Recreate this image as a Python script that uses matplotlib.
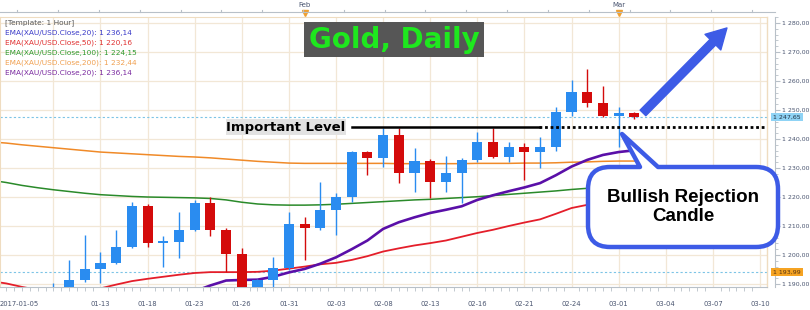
import numpy as np
import matplotlib.pyplot as plt
import matplotlib.transforms as mtransforms
from matplotlib.path import Path
from matplotlib.patches import PathPatch, Rectangle
from matplotlib.ticker import MultipleLocator, FuncFormatter

W, H = 810, 310

# daily candles, x = trading-day index
candle_idx = np.arange(2, 40)
opens = [1186.0, 1187.0, 1191.4, 1195.2, 1197.2, 1202.8, 1216.9, 1204.1, 1204.6, 1208.6,
         1217.9, 1208.6, 1200.3, 1187.5, 1191.4, 1195.5, 1210.7, 1209.3, 1215.5, 1220.0,
         1235.5, 1233.4, 1241.4, 1228.3, 1232.4, 1225.2, 1228.3, 1232.8, 1239.0, 1233.8,
         1237.2, 1235.5, 1237.2, 1249.3, 1256.2, 1252.4, 1247.9, 1249.0]
highs = [1190.5, 1198.3, 1206.9, 1201.0, 1208.6, 1218.3, 1217.6, 1206.6, 1214.8, 1219.0,
         1220.0, 1209.3, 1202.4, 1191.8, 1199.3, 1214.8, 1213.1, 1225.2, 1221.4, 1236.0,
         1236.0, 1243.8, 1243.8, 1236.9, 1233.0, 1234.1, 1233.5, 1242.4, 1243.8, 1239.0,
         1238.6, 1240.7, 1251.0, 1260.3, 1264.1, 1258.3, 1251.0, 1249.3]
lows = [1183.0, 1185.0, 1190.7, 1190.3, 1196.8, 1202.5, 1202.8, 1195.9, 1199.0, 1208.2,
        1206.6, 1194.1, 1185.5, 1186.0, 1188.0, 1195.0, 1198.3, 1208.6, 1206.9, 1218.3,
        1227.6, 1230.3, 1224.8, 1221.7, 1219.7, 1221.7, 1217.9, 1232.1, 1233.5, 1232.1,
        1225.9, 1230.0, 1235.9, 1247.9, 1251.0, 1247.5, 1237.2, 1246.9]
closes = [1188.0, 1191.4, 1195.2, 1197.2, 1202.8, 1216.9, 1204.1, 1204.6, 1208.6, 1217.9,
          1208.6, 1200.3, 1187.5, 1191.4, 1195.5, 1210.7, 1209.3, 1215.5, 1220.0, 1235.5,
          1233.4, 1241.4, 1228.3, 1232.4, 1225.2, 1228.3, 1232.8, 1239.0, 1233.8, 1237.2,
          1235.5, 1237.2, 1249.3, 1256.2, 1252.4, 1247.9, 1249.0, 1247.65]

ema_idx = np.arange(-2, 40)
ema50 = [1191.0, 1190.2, 1189.0, 1188.0, 1187.5, 1187.3, 1187.5, 1188.5, 1189.8, 1191.0,
         1191.8, 1192.5, 1193.2, 1193.8, 1194.1, 1194.1, 1194.1, 1194.2, 1194.6, 1195.3,
         1196.0, 1196.8, 1197.3, 1198.3, 1199.6, 1201.2, 1202.3, 1203.3, 1204.1, 1205.0,
         1206.3, 1207.6, 1208.7, 1210.0, 1211.2, 1212.3, 1214.2, 1216.2, 1217.3, 1218.4,
         1219.3, 1220.2]
ema100 = [1225.8, 1225.0, 1224.0, 1223.2, 1222.5, 1221.9, 1221.3, 1220.8, 1220.5, 1220.2,
          1220.0, 1219.9, 1219.8, 1219.7, 1219.5, 1219.0, 1218.2, 1217.6, 1217.3, 1217.2,
          1217.2, 1217.3, 1217.5, 1217.8, 1218.1, 1218.4, 1218.7, 1219.0, 1219.2, 1219.5,
          1219.8, 1220.1, 1220.5, 1220.9, 1221.3, 1221.7, 1222.1, 1222.6, 1223.0, 1223.4,
          1223.8, 1224.1]
ema200 = [1239.0, 1238.6, 1238.0, 1237.5, 1237.0, 1236.5, 1236.0, 1235.5, 1235.2, 1234.9,
          1234.6, 1234.3, 1234.0, 1233.8, 1233.5, 1233.1, 1232.7, 1232.3, 1232.0, 1231.7,
          1231.6, 1231.6, 1231.6, 1231.6, 1231.6, 1231.6, 1231.5, 1231.5, 1231.5, 1231.5,
          1231.5, 1231.6, 1231.6, 1231.6, 1231.7, 1231.7, 1231.8, 1232.0, 1232.1, 1232.3,
          1232.4, 1232.4]
ema20_idx = np.arange(11, 40)
ema20 = [1187.5, 1189.5, 1191.2, 1191.4, 1191.5, 1192.5, 1194.0, 1195.2, 1197.0, 1199.2,
         1202.0, 1205.0, 1209.0, 1211.3, 1213.0, 1214.5, 1215.6, 1216.8, 1219.0, 1220.6,
         1222.0, 1223.3, 1224.8, 1227.5, 1230.5, 1232.8, 1234.5, 1235.5, 1236.1]

date_pos = [-1.4] + list(range(5, 48, 3))
date_labels = ["2017-01-05", "01-13", "01-18", "01-23", "01-26", "01-31", "02-03", "02-08",
               "02-13", "02-16", "02-21", "02-24", "03-01", "03-04", "03-07", "03-10"]
month_pos = [18, 38]
month_labels = ["Feb", "Mar"]

important_level = 1244.1
level_start, level_break, level_end = 21.0, 32.9, 47.3
low_mark = 1193.99
legend_lines = [("[Template: 1 Hour]", "#555555"),
                ("EMA(XAU/USD.Close,20): 1 236,14", "#3a3ac8"),
                ("EMA(XAU/USD.Close,50): 1 220,16", "#e03030"),
                ("EMA(XAU/USD.Close,100): 1 224,15", "#2e9a2e"),
                ("EMA(XAU/USD.Close,200): 1 232,44", "#f0a050"),
                ("EMA(XAU/USD.Close,20): 1 236,14", "#7a2aa0")]

BLUE, RED = "#2a8cf0", "#d40b0b"
GRID = "#f2e7d6"
AXC = "#4a5570"


def price_fmt(v, pos=None):
    return f"{v:,.2f}".replace(",", " ").replace(".", ",")


fig = plt.figure(figsize=(W / 100, H / 100), dpi=100)
ax = fig.add_axes([0, 23 / H, 767 / W, 270 / H])
pix = mtransforms.Affine2D().scale(1 / W, -1 / H).translate(0, 1) + fig.transFigure

ax.set_xlim(-1.4, 47.45)
ax.set_ylim(1188.97, 1282.07)

# grid
for g in np.arange(2, 48, 3):
    ax.axvline(g, color=GRID, lw=0.9, zorder=0)
for g in np.arange(1190, 1281, 10):
    ax.axhline(g, color=GRID, lw=0.9, zorder=0)
ax.plot([1, 1], [0, 1], transform=ax.transAxes, color="#efdcc0", lw=1, clip_on=False)

# EMAs
ax.plot(ema_idx, ema200, color="#f08a28", lw=1.1, zorder=2)
ax.plot(ema_idx, ema100, color="#2a8a2a", lw=1.1, zorder=2)
ax.plot(ema_idx, ema50, color="#e41e2a", lw=1.3, zorder=2)
ax.plot(ema20_idx, ema20, color="#5a0fa8", lw=1.9, zorder=2)

# candles
o, h, l, c = map(np.array, (opens, highs, lows, closes))
cols = np.where(c >= o, BLUE, RED)
ax.vlines(candle_idx, l, h, colors=cols, lw=1, zorder=3)
body = np.maximum(np.abs(c - o), 0.9)
ax.bar(candle_idx, body, bottom=np.minimum(o, c), width=0.64, color=cols, zorder=4)

# price lines
ax.axhline(closes[-1], color="#7cc4e6", lw=0.8, ls=(0, (2, 2)), zorder=1)
ax.axhline(low_mark, color="#7cc4e6", lw=0.8, ls=(0, (2, 2)), zorder=1)
ax.plot([level_start, level_break], [important_level] * 2, color="black", lw=1.8, zorder=5)
ax.plot([level_break, level_end], [important_level] * 2, color="black", lw=2,
        ls=(0, (1, 1)), zorder=5)

# axes styling
for s in ["top", "left"]:
    ax.spines[s].set_color("#efdcc0")
ax.spines["bottom"].set_color("#b8c0c8")
ax.spines["right"].set_position(("outward", 6))
ax.spines["right"].set_color("#b8c0c8")
ax.yaxis.tick_right()
ax.set_yticks(np.arange(1190, 1281, 10))
ax.yaxis.set_major_formatter(FuncFormatter(price_fmt))
ax.yaxis.set_minor_locator(MultipleLocator(2))
ax.tick_params(axis="y", which="major", length=3.5, color="#b8c0c8", labelsize=4.5,
               labelcolor=AXC, pad=1)
ax.tick_params(axis="y", which="minor", length=2, color="#b8c0c8")
ax.set_xticks(date_pos)
ax.set_xticklabels(date_labels)
ax.xaxis.set_minor_locator(MultipleLocator(0.5))
ax.tick_params(axis="x", which="major", length=0, labelsize=4.9, labelcolor=AXC, pad=10)
ax.tick_params(axis="x", which="minor", length=3, color="#b8c0c8")
ax.get_xticklabels()[0].set_ha("left")

# top month strip
fig.add_artist(plt.Line2D([0, 775], [12, 12], transform=pix, color="#b8c0c8", lw=0.8))
for t in np.arange(-0.3, 48, 2.6):
    xt = 22 + t * 15.7
    fig.add_artist(plt.Line2D([xt, xt], [10, 12], transform=pix, color="#b8c0c8", lw=0.8))
ax.plot(month_pos, [1.015] * 2, "v", color="#f0a030", ms=4, clip_on=False,
        transform=ax.get_xaxis_transform())
for mp, ml in zip(month_pos, month_labels):
    ax.text(mp, 1.045, ml, transform=ax.get_xaxis_transform(), ha="center", va="center",
            fontsize=5, color=AXC)

# legend text
for k, (txt, col) in enumerate(legend_lines):
    fig.text(5 / W, 1 - (23 + 10 * k) / H, txt, color=col, fontsize=5.3, va="center")

# price tags
fig.text(773 / W, 1 - 117 / H, price_fmt(closes[-1]), fontsize=4.5, color="#223344",
         va="center", bbox=dict(boxstyle="square,pad=0.3", fc="#8fd3f5", ec="none"))
fig.text(773 / W, 1 - 272 / H, price_fmt(low_mark), fontsize=4.5, color="#553311",
         va="center", bbox=dict(boxstyle="square,pad=0.3", fc="#f5a323", ec="none"))

# title box
fig.add_artist(Rectangle((304, 22), 180, 35, transform=pix, fc="#565656", ec="none"))
fig.text(394 / W, 1 - 40 / H, "Gold, Daily", ha="center", va="center", fontsize=20,
         weight="bold", color="#1ee81e")

# important level label
fig.add_artist(Rectangle((226, 119), 120, 16, transform=pix, fc="#e2e2e2", ec="none"))
fig.text(286 / W, 1 - 127 / H, "Important Level", ha="center", va="center", fontsize=9.5,
         weight="bold", color="black")

# arrow
ax.annotate("", xy=(44.9, 1278.3), xytext=(39.55, 1249.0), annotation_clip=False,
            arrowprops=dict(arrowstyle="simple,head_length=0.9,head_width=1.0,tail_width=0.36",
                            fc="#3d5be6", ec="#3d5be6", mutation_scale=16,
                            shrinkA=0, shrinkB=0), zorder=6)

# callout
x0, y0, x1, y1, r = 588, 167, 778, 247, 22
verts = [(x0 + r, y0), (640, y0), (622, 134), (658, y0), (x1 - r, y0),
         (x1, y0), (x1, y0 + r), (x1, y1 - r), (x1, y1), (x1 - r, y1),
         (x0 + r, y1), (x0, y1), (x0, y1 - r), (x0, y0 + r), (x0, y0), (x0 + r, y0),
         (x0 + r, y0)]
codes = [Path.MOVETO, Path.LINETO, Path.LINETO, Path.LINETO, Path.LINETO,
         Path.CURVE3, Path.CURVE3, Path.LINETO, Path.CURVE3, Path.CURVE3,
         Path.LINETO, Path.CURVE3, Path.CURVE3, Path.LINETO, Path.CURVE3, Path.CURVE3,
         Path.CLOSEPOLY]
fig.add_artist(PathPatch(Path(verts, codes), transform=pix, fc="white", ec="#3d5be6",
                         lw=3.2, joinstyle="round", zorder=6))
fig.text(683 / W, 1 - 207 / H, "Bullish Rejection\nCandle", ha="center", va="center",
         fontsize=13.5, weight="bold", family="Liberation Sans", linespacing=1.15,
         color="black", zorder=7)

fig.savefig("out.png", dpi=100)
